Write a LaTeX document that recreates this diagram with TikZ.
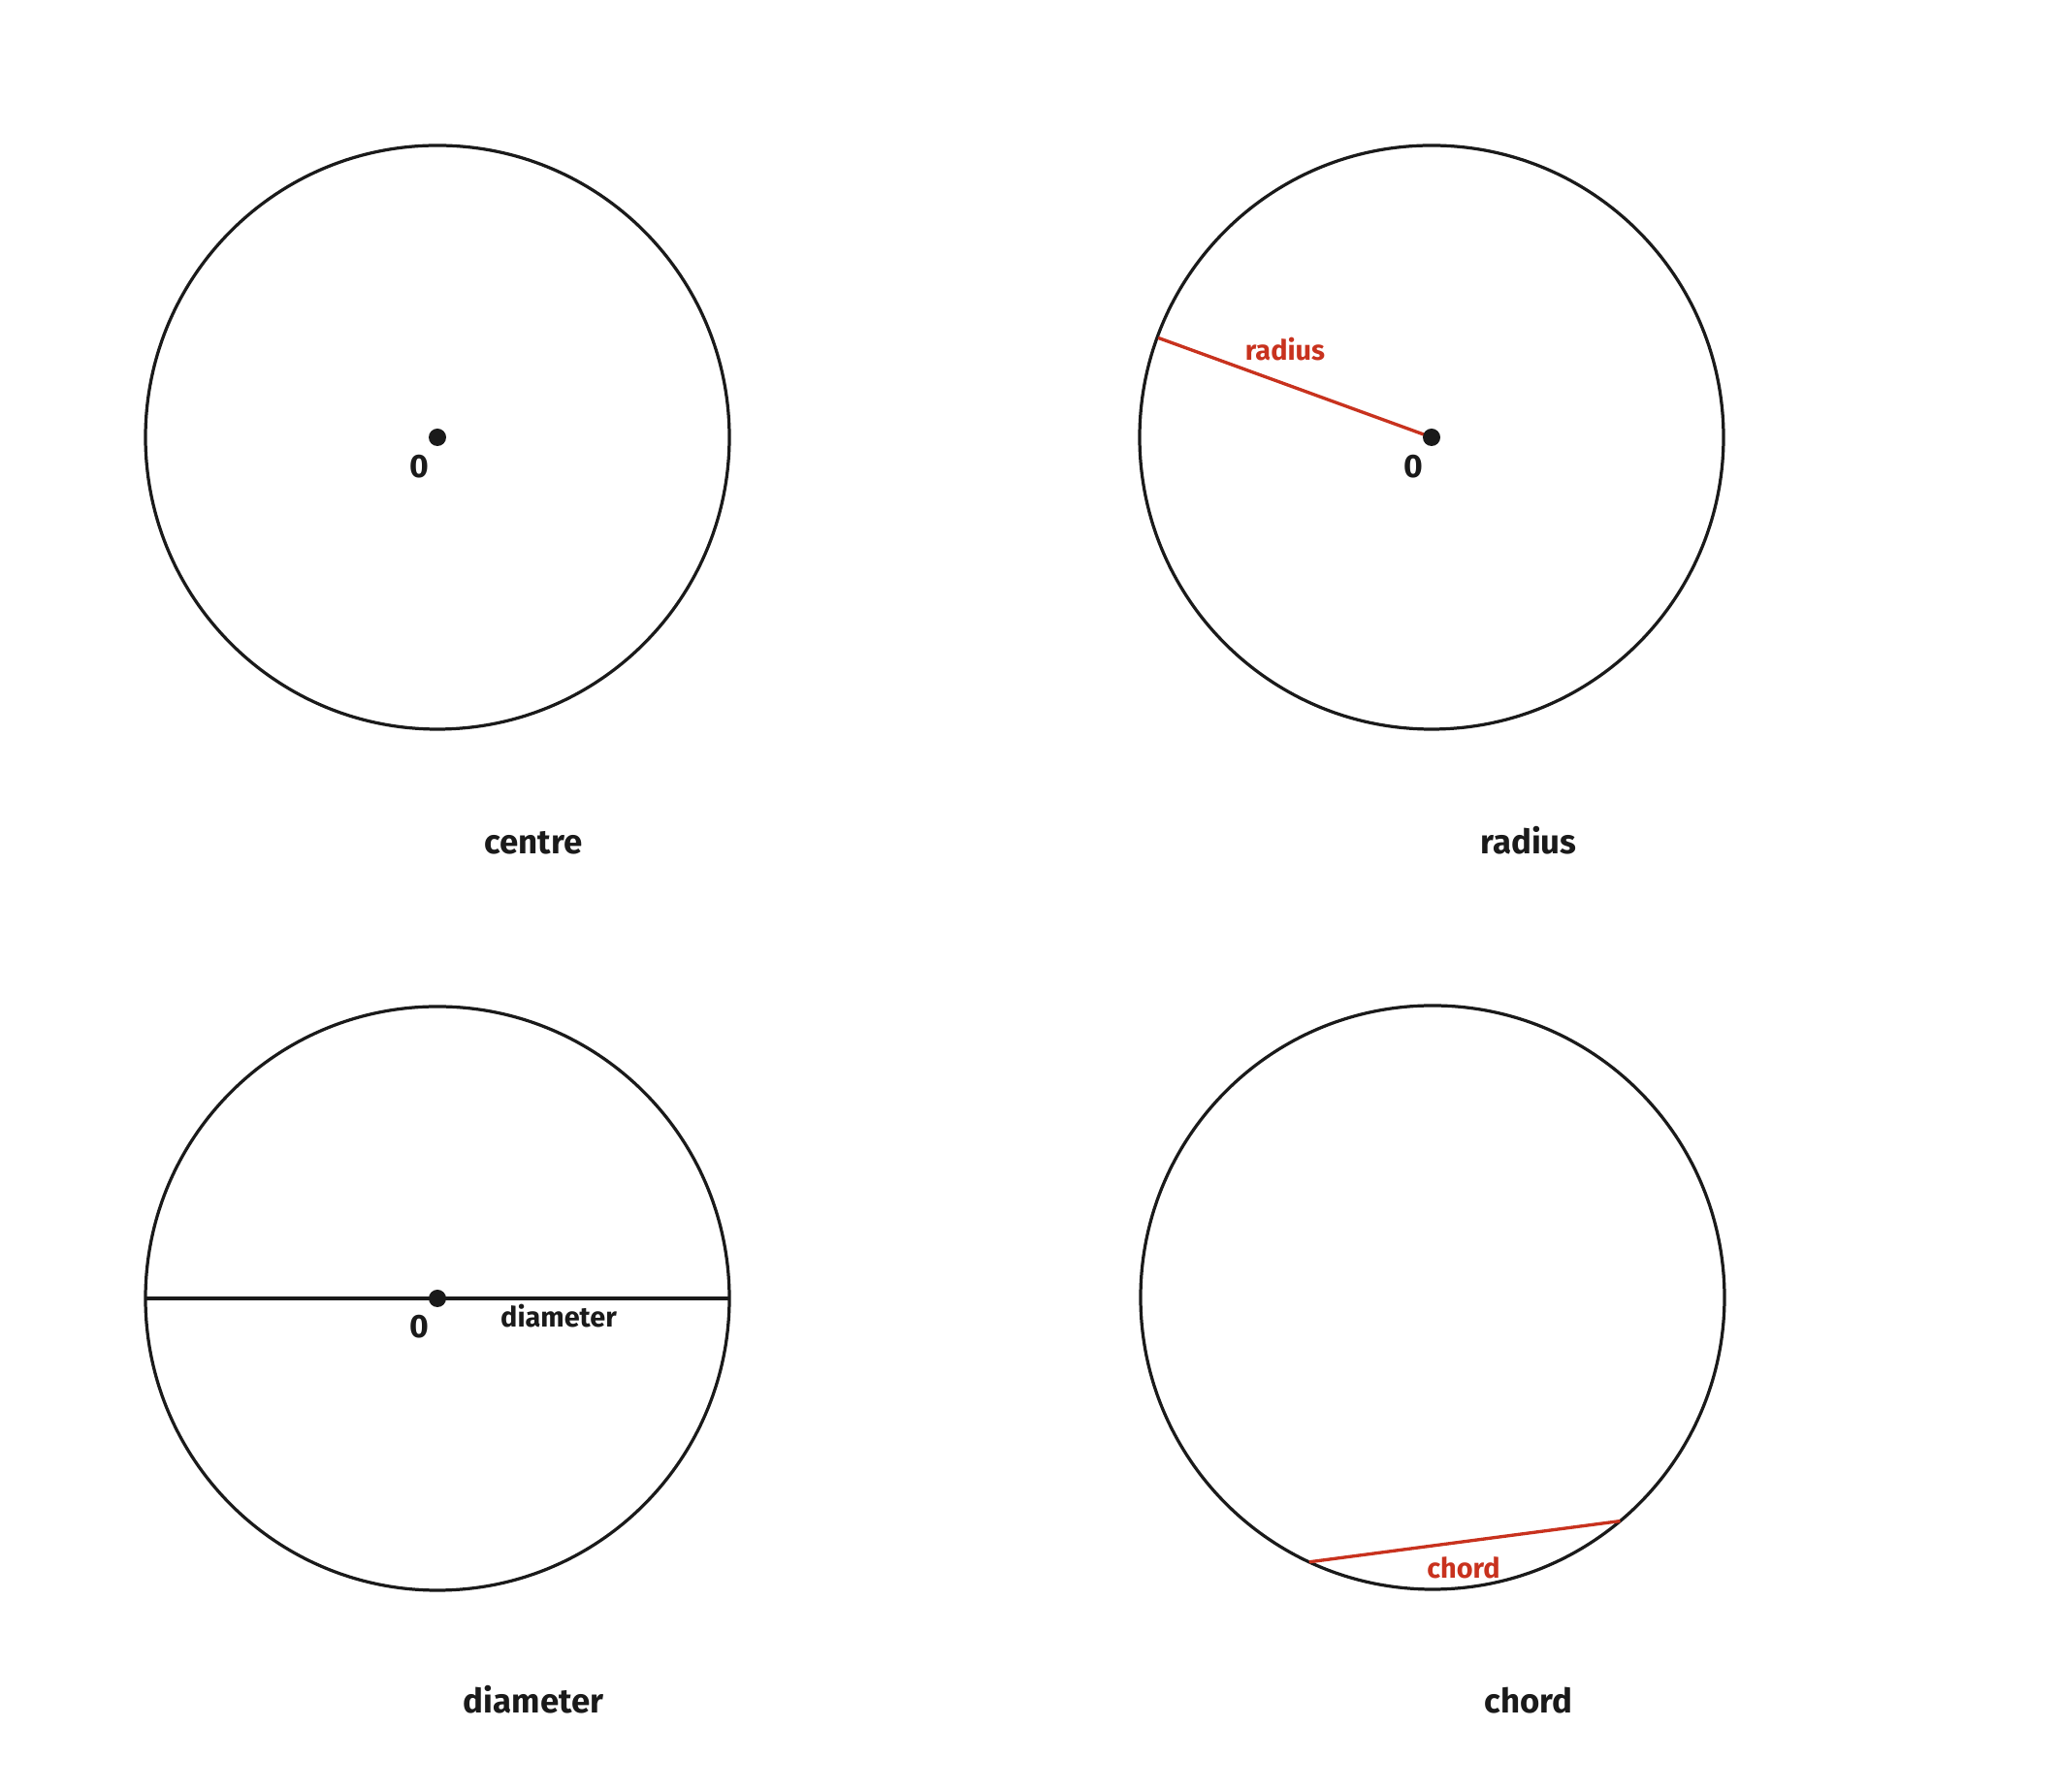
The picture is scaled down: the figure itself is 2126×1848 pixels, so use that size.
\documentclass[tikz,border=0pt]{standalone}
\usepackage{fontspec}
\setmainfont{Fira Sans}
\usepackage{tikz}
\usetikzlibrary{calc,positioning}
\usepackage{xcolor}
\definecolor{inkdark}{RGB}{26,26,26}
\definecolor{inkred}{RGB}{200,50,30}

\begin{document}
\begin{tikzpicture}[x=0.01cm,y=0.01cm,
	  every node/.style={inner sep=0pt,anchor=base,text=inkdark,font=\bfseries},
	  rim/.style={draw=inkdark,line width=0.92pt},
	  redline/.style={draw=inkred,line width=0.95pt},
	  blackline/.style={draw=inkdark,line width=0.92pt},
	  centredot/.style={fill=inkdark},
	  caption/.style={font=\fontsize{9.9}{12}\selectfont\bfseries},
	  tag/.style={font=\fontsize{8.2}{10}\selectfont\bfseries},
	  origin/.style={font=\fontsize{9.6}{11}\selectfont\bfseries},
	  redtag/.style={tag,text=inkred}]

	  \useasboundingbox (0,0) rectangle (2126,1848);

	  % circle centres
	  \coordinate (centreA) at (451,1397);
	  \coordinate (centreB) at (1476,1397);
	  \coordinate (centreC) at (451,509);
	  \coordinate (centreD) at (1477,510);

	  % the four circles
	  \foreach \c in {centreA,centreB,centreC,centreD}
	     \draw[rim] (\c) circle (301);

	  % points on the rims
	  \path (centreB) ++(160:300) coordinate (radiusend);
	  \path (centreC) ++(180:301) coordinate (diamleft);
	  \path (centreC) ++(0:301) coordinate (diamright);
	  \path (centreD) ++(245:301) coordinate (chordleft);
	  \path (centreD) ++(310:301) coordinate (chordright);

	  % radius, diameter and chord
	  \draw[redline] (centreB) -- (radiusend);
	  \draw[blackline] (diamleft) -- (diamright);
	  \draw[redline] (chordleft) -- (chordright);

	  % centre points
	  \foreach \c in {centreA,centreB,centreC}
	     \fill[centredot] (\c) circle (9);

	  % labels
	  \node[origin] (originA) at (432,1355) {0};
	  \node[origin] (originB) at (1457,1355) {0};
	  \node[origin] (originC) at (432,468) {0};
	  \node[redtag] (radiustag) at (1325,1476) {radius};
	  \node[tag] (diametertag) at (576,479) {diameter};
	  \node[redtag] (chordtag) at (1509,220) {chord};

	  % captions
	  \node[caption] (centrecap) at (550,967) {centre};
	  \node[caption] (radiuscap) at (1576,967) {radius};
	  \node[caption] (diametercap) at (550,81) {diameter};
	  \node[caption] (chordcap) at (1576,81) {chord};
\end{tikzpicture}
\end{document}
